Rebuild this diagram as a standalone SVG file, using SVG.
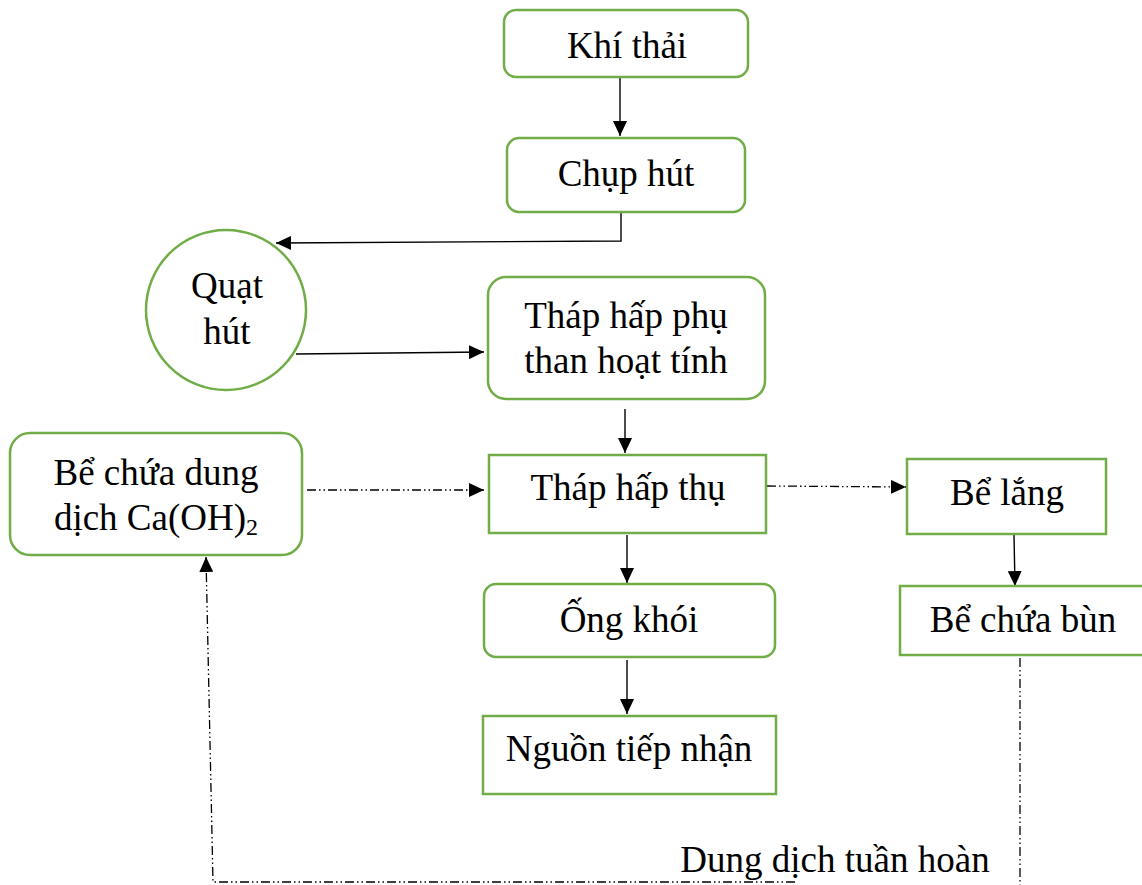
<svg xmlns="http://www.w3.org/2000/svg" width="1142" height="885" viewBox="0 0 1142 885">
<style>
.box{fill:#fff;stroke:#70AD47;stroke-width:2.5}
.t{font-family:"Liberation Serif","Times New Roman",serif;font-size:37px;fill:#000;text-anchor:middle}
.c{fill:none;stroke:#000;stroke-width:1.4}
.d{fill:none;stroke:#000;stroke-width:1.3;stroke-dasharray:9 3 1.5 3 1.5 3}
</style>
<defs>
<marker id="ah" markerUnits="userSpaceOnUse" markerWidth="16" markerHeight="14" refX="15" refY="7" orient="auto">
<path d="M0,0 L15,7 L0,14 Z" fill="#000"/>
</marker>
</defs>
<rect width="1142" height="885" fill="#fff"/>
<g id="connectors">
<line class="c" x1="620" y1="77" x2="620" y2="136" marker-end="url(#ah)"/>
<polyline class="c" points="621,212 621,241 276,243" marker-end="url(#ah)"/>
<line class="c" x1="296" y1="354" x2="484" y2="352" marker-end="url(#ah)"/>
<line class="c" x1="625" y1="409" x2="625" y2="453" marker-end="url(#ah)"/>
<line class="d" x1="307" y1="490" x2="484" y2="490" marker-end="url(#ah)"/>
<line class="d" x1="767" y1="486" x2="906" y2="487" marker-end="url(#ah)"/>
<line class="c" x1="1014" y1="535" x2="1015" y2="586" marker-end="url(#ah)"/>
<line class="c" x1="627" y1="535" x2="627" y2="583" marker-end="url(#ah)"/>
<line class="c" x1="627" y1="660" x2="627" y2="714" marker-end="url(#ah)"/>
<line class="d" x1="1020" y1="658" x2="1020" y2="885"/>
<polyline class="d" points="795,882 213,882 206,557" marker-end="url(#ah)"/>
</g>
<g id="khi-thai"><rect class="box" x="504" y="10" width="244" height="67" rx="12"/><text class="t" x="627" y="58">Khí thải</text></g>
<g id="chup-hut"><rect class="box" x="507" y="138" width="238" height="74" rx="12"/><text class="t" x="626" y="186">Chụp hút</text></g>
<g id="quat-hut"><circle class="box" cx="226" cy="310" r="80"/><text class="t" x="227" y="298">Quạt</text><text class="t" x="227" y="344">hút</text></g>
<g id="thap-hap-phu"><rect class="box" x="488" y="277" width="277" height="122" rx="18"/><text class="t" x="626" y="328">Tháp hấp phụ</text><text class="t" x="626" y="373">than hoạt tính</text></g>
<g id="thap-hap-thu"><rect class="box" x="489" y="455" width="277" height="78"/><text class="t" x="628" y="500">Tháp hấp thụ</text></g>
<g id="be-chua-ca"><rect class="box" x="10" y="433" width="292" height="122" rx="20"/><text class="t" x="156" y="485">Bể chứa dung</text><text class="t" x="156" y="530">dịch Ca(OH)<tspan font-size="24" dy="5">2</tspan></text></g>
<g id="be-lang"><rect class="box" x="907" y="459" width="199" height="75"/><text class="t" x="1007" y="505">Bể lắng</text></g>
<g id="be-chua-bun"><rect class="box" x="900" y="586" width="245" height="69"/><text class="t" x="1023" y="632">Bể chứa bùn</text></g>
<g id="ong-khoi"><rect class="box" x="484" y="584" width="291" height="73" rx="12"/><text class="t" x="629" y="632">Ống khói</text></g>
<g id="nguon-tiep-nhan"><rect class="box" x="483" y="716" width="293" height="78"/><text class="t" x="629" y="761">Nguồn tiếp nhận</text></g>
<g id="label"><text class="t" x="835" y="872">Dung dịch tuần hoàn</text></g>
</svg>
